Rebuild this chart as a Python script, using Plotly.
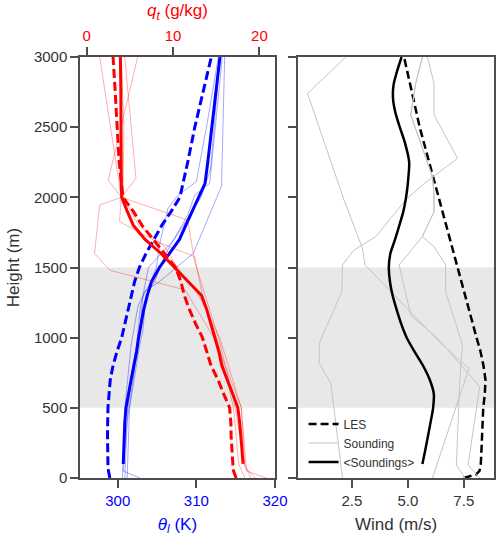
import plotly.graph_objects as go

# ---------------- data ----------------
les_h = [0, 25, 50, 100, 200, 300, 400, 500, 600, 700, 800, 900, 1000, 1100, 1200, 1300,
         1400, 1500, 1600, 1700, 1800, 1900, 2000, 2250, 2500, 2750, 3000]
les_theta = [299.0, 298.9, 298.82, 298.75, 298.7, 298.7, 298.72, 298.76, 298.9, 299.05, 299.4,
             299.9, 300.5, 300.9, 301.35, 301.75, 302.15, 302.75, 303.6, 304.6, 305.6, 306.8,
             307.9, 308.9, 309.8, 310.85, 311.9]
les_qt = [17.3, 17.15, 17.0, 16.92, 16.8, 16.72, 16.68, 16.55, 15.85, 15.2, 14.4, 13.9, 13.4,
          12.6, 11.9, 11.3, 10.9, 10.3, 9.0, 7.7, 6.4, 5.4, 4.2, 3.75, 3.55, 3.3, 3.05]
les_wind = [7.5, 8.05, 8.2, 8.26, 8.29, 8.31, 8.33, 8.37, 8.44, 8.47, 8.38, 8.25, 8.07, 7.9,
            7.74, 7.57, 7.4, 7.24, 7.07, 6.9, 6.73, 6.56, 6.39, 5.96, 5.53, 5.18, 4.83]

mean_h = [100, 200, 300, 400, 500, 600, 700, 800, 900, 1000, 1100, 1200, 1300, 1400, 1500,
          1600, 1700, 1800, 1900, 2000, 2100, 2250, 2500, 2750, 3000]
mean_theta = [300.7, 300.75, 300.8, 300.9, 301.05, 301.35, 301.7, 302.05, 302.4, 302.65, 302.95,
              303.3, 303.75, 304.3, 305.3, 306.6, 307.85, 308.65, 309.45, 310.25, 311.1, 311.45,
              311.95, 312.5, 313.0]
mean_qt = [18.1, 18.0, 17.85, 17.7, 17.5, 16.9, 16.25, 15.65, 15.3, 14.85, 14.4, 13.9, 13.3,
           11.74, 10.2, 8.6, 6.75, 5.4, 4.7, 4.05, 4.0, 4.0, 3.98, 3.95, 3.9]

wind_mean_h = [100, 200, 300, 400, 500, 600, 700, 800, 900, 1000, 1100, 1200, 1300, 1400, 1500,
               1600, 1700, 1800, 1900, 2000, 2100, 2250, 2400, 2500, 2600, 2700, 2800, 2900, 3000]
wind_mean = [5.65, 5.78, 5.9, 6.02, 6.13, 6.16, 5.98, 5.68, 5.3, 4.95, 4.7, 4.5, 4.32, 4.2, 4.15,
             4.22, 4.43, 4.62, 4.8, 4.92, 5.0, 5.06, 4.85, 4.64, 4.45, 4.34, 4.36, 4.52, 4.72]

# individual soundings: theta_l
snd_theta_h = [
    [0, 50, 500, 800, 950, 1230, 1330, 1390, 1600, 1980, 2080, 3000],
    [0, 500, 948, 1233, 1387, 1496, 1660, 1827, 1922, 2017, 2112, 2503, 3000],
    [0, 500, 948, 1050, 1304, 1400, 1589, 1874, 2017, 2100, 3000],
    [0, 400, 800, 1100, 1300, 1500, 1700, 1900, 2000, 2200, 3000],
]
snd_theta = [
    [302.8, 300.7, 301.3, 301.9, 302.4, 302.9, 303.4, 305.1, 309.6, 312.5, 313.2, 313.6],
    [300.6, 300.9, 301.7, 302.6, 304.1, 304.9, 305.3, 306.0, 306.4, 307.7, 310.0, 311.3, 312.8],
    [301.2, 301.5, 302.8, 303.2, 303.6, 304.7, 306.0, 308.9, 309.8, 311.7, 313.3],
    [300.9, 301.2, 302.2, 302.9, 303.2, 303.9, 307.2, 309.5, 310.6, 311.8, 313.0],
]
# individual soundings: q_t
snd_qt_h = [
    [0, 50, 500, 780, 970, 1340, 1480, 1600, 1945, 2000, 3000],
    [0, 80, 500, 971, 1541, 1838, 2000, 2123, 3000],
    [0, 100, 500, 970, 1300, 1577, 1690, 1827, 2000, 2135, 3000],
    [0, 100, 500, 800, 1000, 1300, 1500, 1650, 1800, 2000, 2500, 3000],
]
snd_qt = [
    [20.8, 18.5, 17.9, 16.2, 15.0, 11.4, 2.7, 0.9, 1.5, 4.0, 1.5],
    [19.5, 18.3, 17.2, 15.4, 12.5, 11.7, 4.0, 2.5, 5.9],
    [18.3, 17.6, 17.0, 15.2, 13.4, 12.5, 7.9, 3.8, 4.0, 5.7, 4.4],
    [19.0, 18.3, 17.9, 16.4, 15.4, 13.0, 10.5, 9.0, 6.0, 4.2, 4.3, 4.0],
]
# individual soundings: wind
snd_wind_h = [
    [0, 781, 948, 1518, 1637, 1981, 2740, 3000],
    [0, 675, 817, 960, 1328, 1518, 1625, 1720, 1981, 2088, 2278, 2587, 2812, 3000],
    [0, 93, 651, 983, 1162, 1518, 1720, 1898, 2017, 2147, 2587, 2812, 3000],
    [0, 93, 698, 948, 1328, 1518, 1648, 1720, 1898, 2017, 2147, 2587, 2812, 3000],
]
snd_wind = [
    [6.1, 7.73, 6.55, 3.09, 2.97, 2.15, 0.52, 2.23],
    [2.08, 1.56, 1.04, 1.04, 2.05, 2.08, 2.6, 3.57, 4.9, 5.65, 7.22, 6.17, 6.17, 5.88],
    [8.21, 7.69, 8.21, 6.4, 5.13, 4.61, 5.65, 6.17, 6.17, 6.1, 5.13, 5.35, 5.65],
    [7.55, 7.17, 7.32, 7.44, 6.69, 6.69, 6.17, 5.65, 6.17, 6.17, 6.1, 5.13, 5.35, 5.65],
]

height_ticks = [0, 500, 1000, 1500, 2000, 2500, 3000]
theta_ticks = [300, 310, 320]
qt_ticks = [0, 10, 20]
wind_ticks = [2.5, 5.0, 7.5]
wind_ticklabels = ["2.5", "5.0", "7.5"]

BLUE = "#0000ff"
RED = "#ff0000"
AX = "#4d4d4d"
TXT = "#333333"
FONT = "Liberation Sans, Arial, sans-serif"

fig = go.Figure()

# theta_l (blue) on x / y
for hh, vv in zip(snd_theta_h, snd_theta):
    fig.add_trace(go.Scatter(x=vv, y=hh, mode="lines", xaxis="x", yaxis="y",
                             line=dict(color="rgba(0,0,255,0.35)", width=1), showlegend=False,
                             hoverinfo="skip"))
fig.add_trace(go.Scatter(x=mean_theta, y=mean_h, mode="lines", xaxis="x", yaxis="y",
                         line=dict(color=BLUE, width=3), showlegend=False))
fig.add_trace(go.Scatter(x=les_theta, y=les_h, mode="lines", xaxis="x", yaxis="y",
                         line=dict(color=BLUE, width=3, dash="9px,4px"), showlegend=False))

# q_t (red) on x3 / y
for hh, vv in zip(snd_qt_h, snd_qt):
    fig.add_trace(go.Scatter(x=vv, y=hh, mode="lines", xaxis="x3", yaxis="y",
                             line=dict(color="rgba(255,0,0,0.32)", width=1), showlegend=False,
                             hoverinfo="skip"))
fig.add_trace(go.Scatter(x=mean_qt, y=mean_h, mode="lines", xaxis="x3", yaxis="y",
                         line=dict(color=RED, width=3), showlegend=False))
fig.add_trace(go.Scatter(x=les_qt, y=les_h, mode="lines", xaxis="x3", yaxis="y",
                         line=dict(color=RED, width=3, dash="9px,4px"), showlegend=False))

# wind on x2 / y2
fig.add_trace(go.Scatter(x=les_wind, y=les_h, mode="lines", xaxis="x2", yaxis="y2",
                         line=dict(color="black", width=2.5, dash="8px,4px"), name="LES",
                         legendrank=1))
for i, (hh, vv) in enumerate(zip(snd_wind_h, snd_wind)):
    fig.add_trace(go.Scatter(x=vv, y=hh, mode="lines", xaxis="x2", yaxis="y2",
                             line=dict(color="#c4c4c4", width=1), name="Sounding",
                             showlegend=(i == 0), legendrank=2))
fig.add_trace(go.Scatter(x=wind_mean, y=wind_mean_h, mode="lines", xaxis="x2", yaxis="y2",
                         line=dict(color="black", width=2.5, shape="spline", smoothing=0.6),
                         name="&lt;Soundings&gt;", legendrank=3))

# shaded band
for xr, yr in [("x domain", "y"), ("x2 domain", "y2")]:
    fig.add_shape(type="rect", xref=xr, yref=yr, x0=0, x1=1, y0=500, y1=1500,
                  fillcolor="#e8e8e8", line=dict(width=0), layer="below")

common_axis = dict(showgrid=False, zeroline=False, showline=True, linecolor=AX, linewidth=1.5,
                   ticks="outside", ticklen=8, tickwidth=1.5, tickcolor=AX, automargin=False)

fig.update_layout(
    template="none",
    autosize=False,
    width=500, height=540,
    margin=dict(l=80, r=6, t=57, b=62, pad=0),
    paper_bgcolor="white", plot_bgcolor="white",
    font=dict(family=FONT, size=15, color=TXT),
    xaxis=dict(domain=[0, 0.471], range=[295.2, 320], anchor="y", tickvals=theta_ticks,
               tickfont=dict(color=BLUE, size=15), mirror=True,
               title=dict(text="<i>θ</i><sub><i>l</i></sub> (K)", font=dict(color=BLUE, size=17),
                          standoff=10),
               **common_axis),
    xaxis3=dict(range=[-0.78, 21.8], overlaying="x", side="top", anchor="y", tickvals=qt_ticks,
                tickfont=dict(color=RED, size=15),
                title=dict(text="<i>q</i><sub><i>t</i></sub> (g/kg)", font=dict(color=RED, size=17),
                           standoff=6),
                **common_axis),
    yaxis=dict(domain=[0, 1], range=[0, 3000], anchor="x", tickvals=height_ticks, mirror=True,
               tickfont=dict(size=15, color=TXT),
               title=dict(text="Height (m)", font=dict(size=17, color=TXT), standoff=10),
               **common_axis),
    xaxis2=dict(domain=[0.527, 1], range=[0.1, 8.85], anchor="y2", tickvals=wind_ticks,
                ticktext=wind_ticklabels, mirror=True, tickfont=dict(size=15, color=TXT),
                title=dict(text="Wind (m/s)", font=dict(size=17, color=TXT), standoff=10),
                **common_axis),
    yaxis2=dict(domain=[0, 1], range=[0, 3000], anchor="x2", matches="y", tickvals=height_ticks,
                showticklabels=False, mirror=True, **common_axis),
    legend=dict(x=0.54, xanchor="left", y=0.083, yanchor="middle", bgcolor="rgba(0,0,0,0)",
                font=dict(size=12, color=TXT), borderwidth=0, tracegroupgap=0),
    showlegend=True,
)

fig.write_html("out.html", config={"responsive": False})
